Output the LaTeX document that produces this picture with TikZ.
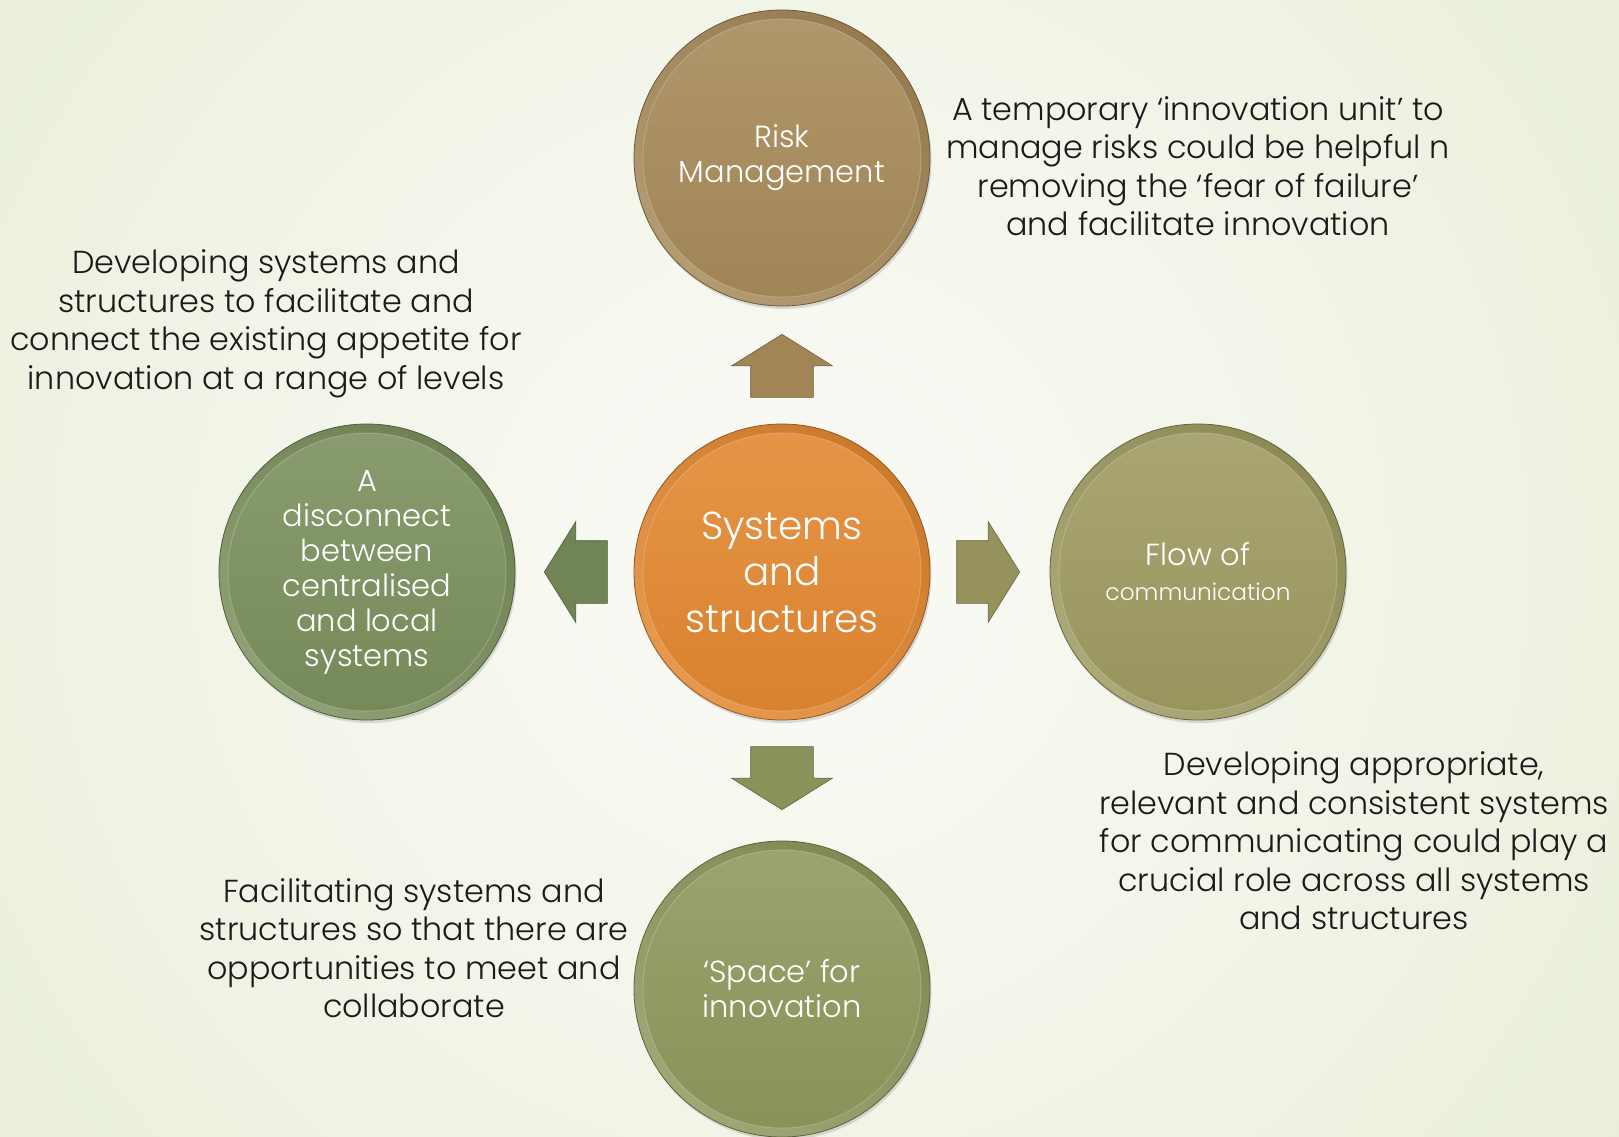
\documentclass[tikz,border=0pt]{standalone}
\usepackage{fontspec}
\setmainfont{Poppins}[UprightFont=* Light]
\usepackage{tikz}
\usetikzlibrary{shapes.arrows,shadows,calc,positioning}
\definecolor{paper}{HTML}{FBFBF7}
\definecolor{sage}{HTML}{D8E4C0}
\definecolor{ink}{HTML}{1A1A1A}
\definecolor{amber}{HTML}{E2872F}
\definecolor{tan}{HTML}{A68958}
\definecolor{moss}{HTML}{7A8F5C}
\definecolor{olive}{HTML}{9D9A60}
\definecolor{fern}{HTML}{8C985C}
\tikzset{disc/.style={circle,minimum size=296pt,inner sep=0pt,align=center,text=white,draw=#1!65!black,line width=.8pt,drop shadow={shadow xshift=1.5pt,shadow yshift=-3pt,opacity=.25},top color=#1!90!black,bottom color=#1!85!white,shading angle=-40,path picture={\shade[top color=#1!88!white,bottom color=#1!96!black] (path picture bounding box.center) circle[radius=139pt];\draw[white,opacity=.2,line width=1pt] (path picture bounding box.center) circle[radius=139pt];}},push/.style={single arrow,fill=#1,draw=#1!70!black,line width=.6pt,minimum height=63pt,single arrow head extend=19pt,single arrow tip angle=116,single arrow head indent=0pt,inner sep=0pt,anchor=tail},level/.style={inner ysep=31pt},plumb/.style={inner xsep=31pt},note/.style={align=center,text=ink,font=\fontsize{31.8}{38.5}\selectfont},tag/.style={font=\fontsize{30.5}{35}\selectfont}}

\begin{document}
\begin{tikzpicture}[x=1pt,y=-1pt]
\useasboundingbox (0,0) rectangle (1619,1136);
\begin{scope}
\clip (0,0) rectangle (1619,1136);
\shade[inner color=paper,outer color=sage] (790,560) circle[radius=2000pt];
\end{scope}
\node[disc=amber,font=\fontsize{39}{46.5}\selectfont] (core) at (782,572) {Systems\\and\\structures};
\node[disc=tan,tag] (risk) at (782,158) {Risk\\Management};
\node[disc=moss,tag] (gap) at (367,572) {A\\disconnect\\between\\centralised\\and local\\systems};
\node[disc=olive,tag] (flow) at (1198,572) {Flow of\\{\fontsize{23.3}{27}\selectfont communication}};
\node[disc=fern,tag] (space) at (782,989) {‘Space’ for\\innovation};
% block arrows leave the core 26pt off its rim
\node[push=tan!97!black,plumb,shape border rotate=90] (up) at ([yshift=26pt]core.north) {};
\node[push=moss!92!black,level,shape border rotate=180] (left) at ([xshift=-26pt]core.west) {};
\node[push=olive!95!black,level] (right) at ([xshift=26pt]core.east) {};
\node[push=fern!97!black,plumb,shape border rotate=270] (down) at ([yshift=-26pt]core.south) {};
\node[note] (riskNote) at (1198,166) {A temporary ‘innovation unit’ to\\manage risks could be helpful n\\removing the ‘fear of failure’\\and facilitate innovation};
\node[note] (gapNote) at (266,324) {Developing systems and\\structures to facilitate and\\connect the existing appetite for\\innovation at a range of levels};
\node[note] (flowNote) at (1354,841) {Developing appropriate,\\relevant and consistent systems\\for communicating could play a\\crucial role across all systems\\and structures};
\node[note] (spaceNote) at (414,948) {Facilitating systems and\\structures so that there are\\opportunities to meet and\\collaborate};
\end{tikzpicture}
\end{document}
